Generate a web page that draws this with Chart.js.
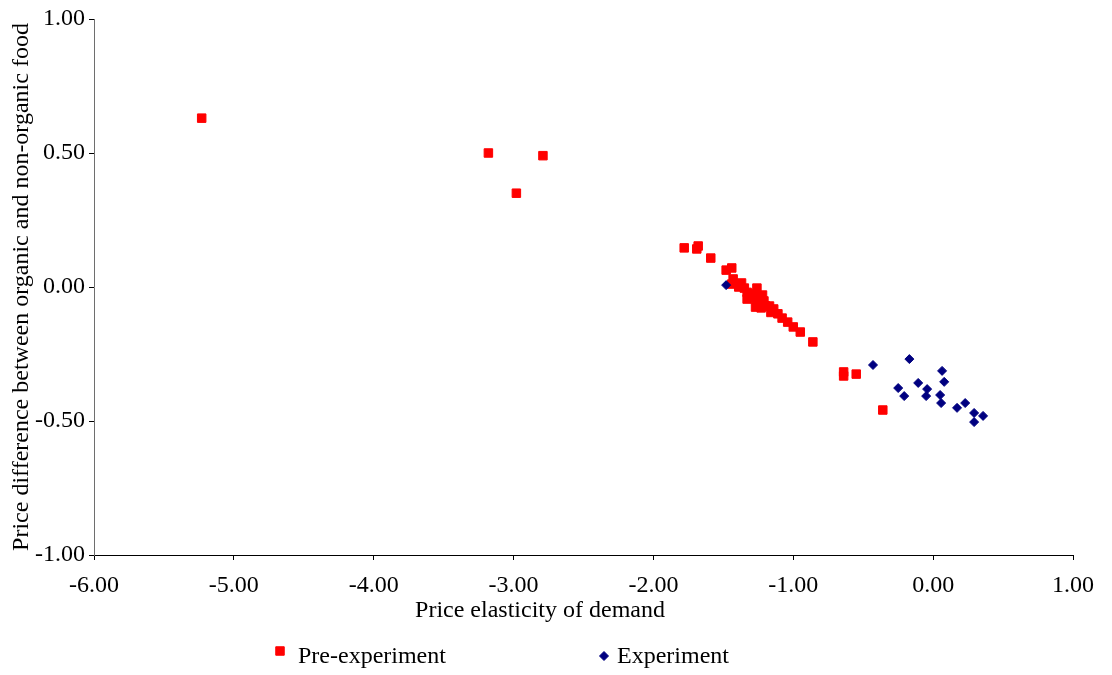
<!DOCTYPE html>
<html>
<head>
<meta charset="utf-8">
<script src="https://cdn.jsdelivr.net/npm/chart.js@4/dist/chart.umd.min.js"></script>
<style>
  html, body { margin: 0; padding: 0; background: #fff; }
  #wrap { width: 1112px; height: 675px; position: relative; }
</style>
</head>
<body>
<div id="wrap"><canvas id="c" width="1112" height="675"></canvas></div>
<script>
// Pre-experiment observations: price elasticity (x) vs price difference (y)
const preX = [-5.23, -3.18, -2.79, -2.98,
  -1.78, -1.68, -1.69, -1.59, -1.48, -1.44, -1.43, -1.44, -1.37, -1.35, -1.26,
  -1.31, -1.31, -1.24, -1.26, -1.21, -1.23, -1.17, -1.14, -1.08, -1.04, -1.00,
  -0.95, -0.86, -1.33, -1.28, -1.20, -1.11,
  -1.33, -1.27, -1.22, -1.16, -1.39,
  -0.64, -0.64, -0.55, -0.36];
const preY = [0.63, 0.50, 0.49, 0.35,
  0.146, 0.153, 0.142, 0.108, 0.063, 0.071, 0.030, 0.011, 0.015, -0.004, -0.004,
  -0.026, -0.041, -0.041, -0.060, -0.052, -0.078, -0.071, -0.082, -0.116, -0.131, -0.149,
  -0.168, -0.205, -0.020, -0.030, -0.070, -0.100,
  -0.045, -0.075, -0.030, -0.095, 0.000,
  -0.317, -0.332, -0.325, -0.459];

// Experiment observations
const expX = [-1.48, -0.43, -0.17, 0.064, 0.079, -0.25, -0.207, -0.107, -0.043,
  -0.05, 0.05, 0.057, 0.171, 0.229, 0.293, 0.357, 0.293];
const expY = [0.007, -0.291, -0.269, -0.313, -0.354, -0.377, -0.407, -0.358, -0.381,
  -0.407, -0.403, -0.433, -0.451, -0.433, -0.470, -0.481, -0.504];

// Axis ranges and labels
const xTicks = [-6, -5, -4, -3, -2, -1, 0, 1];
const yTicks = [-1, -0.5, 0, 0.5, 1];
const seriesNames = ['Pre-experiment', 'Experiment'];
const xTitle = 'Price elasticity of demand';
const yTitle = 'Price difference between organic and non-organic food';

const FONT_FAMILY = "'Liberation Serif', 'Times New Roman', serif";
const FONT_SIZE = 24;
const RED = '#ff0000';
const NAVY = '#000080';

const toPoints = (xs, ys) => xs.map((x, i) => ({ x: x, y: ys[i] }));

// Draws the horizontal axis title and the legend row beneath the plot
const extras = {
  id: 'extras',
  afterDraw(chart) {
    const ctx = chart.ctx;
    const area = chart.chartArea;
    ctx.save();
    ctx.font = FONT_SIZE + 'px ' + FONT_FAMILY;
    ctx.fillStyle = '#000';
    ctx.textBaseline = 'middle';
    ctx.textAlign = 'center';
    ctx.fillText(xTitle, area.left + 446, area.bottom + 56);

    const items = [
      { name: seriesNames[0], style: 'rect', radius: 6, color: RED, mx: area.left + 186, my: area.bottom + 96 },
      { name: seriesNames[1], style: 'rectRot', radius: 4.5, color: NAVY, mx: area.left + 510, my: area.bottom + 101 }
    ];
    ctx.textAlign = 'left';
    items.forEach(it => {
      ctx.fillStyle = it.color;
      ctx.strokeStyle = it.color;
      ctx.lineWidth = 1;
      Chart.helpers.drawPoint(ctx, { pointStyle: it.style, radius: it.radius, rotation: 0, borderWidth: 1 }, it.mx, it.my);
      ctx.fillStyle = '#000';
      ctx.fillText(it.name, it.mx + (it.style === 'rect' ? 18 : 13), area.bottom + 102);
    });
    ctx.restore();
  }
};

new Chart(document.getElementById('c'), {
  type: 'scatter',
  data: {
    datasets: [
      {
        label: seriesNames[0],
        data: toPoints(preX, preY),
        pointStyle: 'rect',
        pointRadius: 6,
        pointHoverRadius: 6,
        backgroundColor: RED,
        borderColor: RED,
        borderWidth: 1,
        order: 1
      },
      {
        label: seriesNames[1],
        data: toPoints(expX, expY),
        pointStyle: 'rectRot',
        pointRadius: 4.5,
        pointHoverRadius: 4.5,
        backgroundColor: NAVY,
        borderColor: NAVY,
        borderWidth: 1,
        order: 0
      }
    ]
  },
  options: {
    responsive: false,
    animation: false,
    events: [],
    layout: { padding: { left: 0, right: 39, top: 19, bottom: 0 } },
    plugins: {
      legend: { display: false },
      tooltip: { enabled: false }
    },
    scales: {
      x: {
        type: 'linear',
        min: xTicks[0],
        max: xTicks[xTicks.length - 1],
        afterBuildTicks: s => { s.ticks = xTicks.map(v => ({ value: v })); },
        afterFit: s => { s.height = 120; },
        grid: { display: true, drawOnChartArea: false, drawTicks: true, tickLength: 5, tickColor: '#000' },
        border: { display: true, color: '#000', width: 1 },
        ticks: {
          color: '#000',
          padding: 11,
          maxRotation: 0,
          font: { family: FONT_FAMILY, size: FONT_SIZE },
          callback: v => Number(v).toFixed(2)
        }
      },
      y: {
        type: 'linear',
        min: yTicks[0],
        max: yTicks[yTicks.length - 1],
        afterBuildTicks: s => { s.ticks = yTicks.map(v => ({ value: v })); },
        afterFit: s => { s.width = 94; },
        grid: { display: true, drawOnChartArea: false, drawTicks: true, tickLength: 5, tickColor: '#000' },
        border: { display: true, color: '#6e6e6e', width: 1 },
        title: {
          display: true,
          text: yTitle,
          color: '#000',
          padding: { top: 7, bottom: 0 },
          font: { family: FONT_FAMILY, size: FONT_SIZE }
        },
        ticks: {
          color: '#000',
          padding: 4,
          font: { family: FONT_FAMILY, size: FONT_SIZE },
          callback: v => Number(v).toFixed(2)
        }
      }
    }
  },
  plugins: [extras]
});
</script>
</body>
</html>
